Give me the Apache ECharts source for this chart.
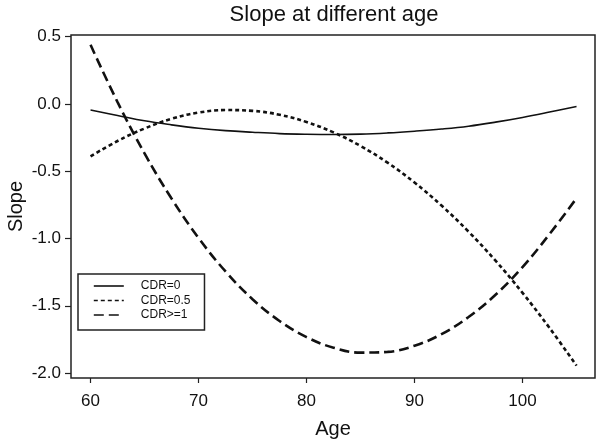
<!DOCTYPE html>
<html>
<head>
<meta charset="utf-8">
<script src="https://cdn.jsdelivr.net/npm/echarts@6/dist/echarts.min.js"></script>
<style>html,body{margin:0;padding:0;background:#fff}#c{width:601px;height:445px}</style>
</head>
<body>
<div id="c"></div>
<script>
var ages = [60,62.5,65,67.5,70,72.5,75,77.5,80,82.5,85,87.5,90,92.5,95,97.5,100,102.5,105];
var cdr0 = [-0.045,-0.085,-0.125,-0.155,-0.18,-0.198,-0.21,-0.22,-0.225,-0.227,-0.224,-0.215,-0.202,-0.186,-0.165,-0.135,-0.10,-0.06,-0.018];
var cdr05 = [-0.389,-0.275,-0.182,-0.11,-0.064,-0.045,-0.051,-0.08,-0.134,-0.211,-0.312,-0.436,-0.584,-0.755,-0.949,-1.165,-1.404,-1.665,-1.945];
var cdr1 = [0.44,0.014,-0.367,-0.703,-0.996,-1.245,-1.451,-1.613,-1.733,-1.812,-1.848,-1.843,-1.797,-1.711,-1.584,-1.418,-1.212,-0.967,-0.70];
var xTicks = [60,70,80,90,100];
var yTicks = [-2.0,-1.5,-1.0,-0.5,0.0,0.5];
var seriesNames = ['CDR=0','CDR=0.5','CDR>=1'];

function pairs(ys){ return ages.map(function(a,i){ return [a, ys[i]]; }); }

var font = 'Liberation Sans, Arial, sans-serif';
var chart = echarts.init(document.getElementById('c'), null, {renderer:'canvas'});
chart.setOption({
  backgroundColor:'#fff',
  animation:false,
  title:{text:'Slope at different age', left:334, top:4, padding:0, textAlign:'center',
    textStyle:{fontFamily:font, fontSize:22, fontWeight:'normal', color:'#111'}},
  grid:{left:71, right:6, top:35, bottom:67, show:true, borderColor:'#222', borderWidth:1.5,
    backgroundColor:'#fff', outerBoundsMode:'none', containLabel:false},
  legend:{
    orient:'vertical', left:78, top:274,
    data:seriesNames,
    backgroundColor:'#fff', borderColor:'#222', borderWidth:1.5,
    padding:[6,14,9,15],
    itemWidth:30, itemHeight:11, itemGap:2.5,
    itemStyle:{opacity:0, borderWidth:0},
    lineStyle:{width:1.6},
    textStyle:{fontFamily:font, fontSize:12, color:'#111', padding:[0,0,0,12]}
  },
  xAxis:{type:'value', min:58.19, max:106.71,
    name:'Age', nameLocation:'middle', nameGap:41, nameMoveOverlap:false,
    nameTextStyle:{fontFamily:font, fontSize:20, color:'#111'},
    axisLine:{show:false, onZero:false}, splitLine:{show:false},
    axisTick:{show:true, inside:false, length:5, customValues:xTicks, lineStyle:{color:'#222', width:1.2}},
    axisLabel:{customValues:xTicks, margin:15, fontFamily:font, fontSize:17, color:'#111'}
  },
  yAxis:{type:'value', min:-2.037, max:0.513,
    name:'Slope', nameLocation:'middle', nameGap:45, nameMoveOverlap:false,
    nameTextStyle:{fontFamily:font, fontSize:20, color:'#111'},
    axisLine:{show:false, onZero:false}, splitLine:{show:false},
    axisTick:{show:true, inside:false, length:6, customValues:yTicks, lineStyle:{color:'#222', width:1.2}},
    axisLabel:{customValues:yTicks, margin:10, fontFamily:font, fontSize:17, color:'#111',
      formatter:function(v){ return v.toFixed(1); }}
  },
  series:[
    {name:seriesNames[0], type:'line', data:pairs(cdr0), smooth:0.4, showSymbol:false, symbol:'none',
      lineStyle:{color:'#111', width:1.6, type:'solid'}, itemStyle:{color:'#111'}},
    {name:seriesNames[1], type:'line', data:pairs(cdr05), smooth:0.4, showSymbol:false, symbol:'none',
      lineStyle:{color:'#111', width:2.6, type:[4,3]}, itemStyle:{color:'#111'}},
    {name:seriesNames[2], type:'line', data:pairs(cdr1), smooth:0.4, showSymbol:false, symbol:'none',
      lineStyle:{color:'#111', width:2.6, type:[10,5]}, itemStyle:{color:'#111'}}
  ]
});
</script>
</body>
</html>
